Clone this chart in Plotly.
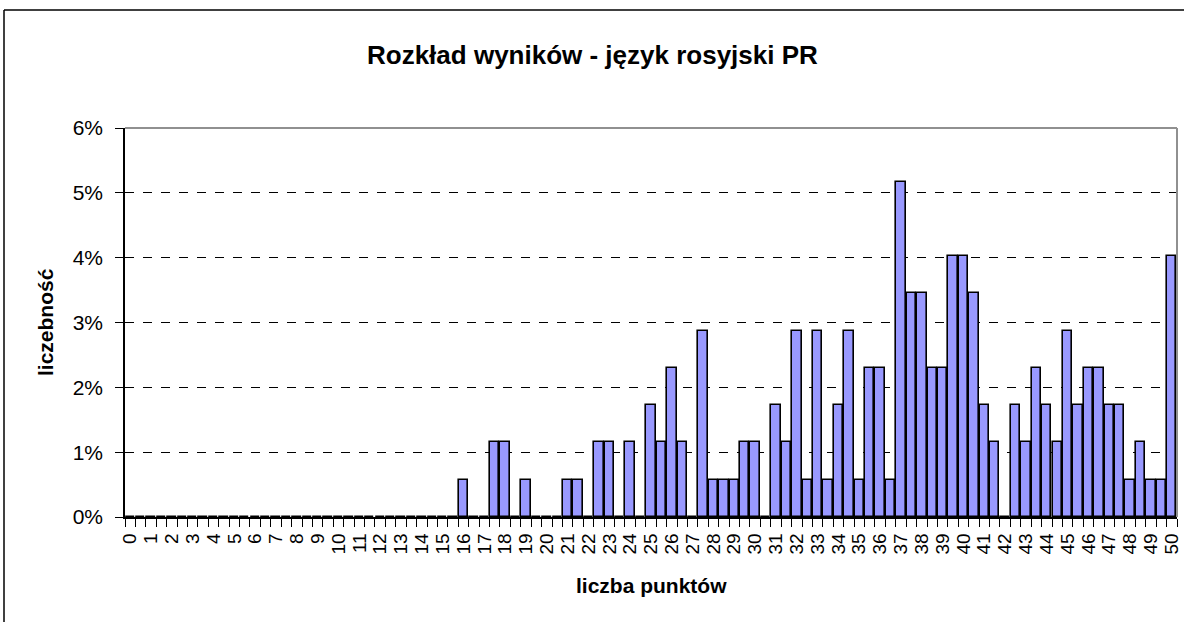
import plotly.graph_objects as go

# categories: scores 0, 0.5, ..., 50
scores = [i / 2 for i in range(101)]

# percent of students per score
percent = [
    0, 0, 0, 0, 0, 0, 0, 0, 0, 0,          # 0 - 4.5
    0, 0, 0, 0, 0, 0, 0, 0, 0, 0,          # 5 - 9.5
    0, 0, 0, 0, 0, 0, 0, 0, 0, 0,          # 10 - 14.5
    0, 0,                                  # 15 - 15.5
    0.57, 0, 0, 1.15, 1.15, 0, 0.57, 0,    # 16 - 19.5
    0, 0, 0.57, 0.57, 0, 1.15, 1.15, 0,    # 20 - 23.5
    1.15, 0, 1.72, 1.15, 2.30, 1.15, 0, 2.87,   # 24 - 27.5
    0.57, 0.57, 0.57, 1.15, 1.15, 0, 1.72, 1.15,  # 28 - 31.5
    2.87, 0.57, 2.87, 0.57, 1.72, 2.87, 0.57, 2.30,  # 32 - 35.5
    2.30, 0.57, 5.17, 3.45, 3.45, 2.30, 2.30, 4.02,  # 36 - 39.5
    4.02, 3.45, 1.72, 1.15, 0, 1.72, 1.15, 2.30,    # 40 - 43.5
    1.72, 1.15, 2.87, 1.72, 2.30, 2.30, 1.72, 1.72,  # 44 - 47.5
    0.57, 1.15, 0.57, 0.57, 4.02,          # 48 - 50
]

tick_values = list(range(0, 51))
tick_labels = [str(v) for v in tick_values]
y_ticks = [0, 0.01, 0.02, 0.03, 0.04, 0.05, 0.06]

title_text = "Rozkład wyników - język rosyjski PR"
x_title = "liczba punktów"
y_title = "liczebność"

FONT = "Liberation Sans, Arial, sans-serif"

# plot area in pixels
L, R, T, B = 125, 1177, 128, 517
PW, PH = R - L, B - T

fig = go.Figure()
fig.add_trace(go.Bar(
    x=scores,
    y=[p / 100 for p in percent],
    width=0.45,
    marker=dict(color="#9999FF", line=dict(color="black", width=1.6)),
    hoverinfo="x+y",
))

boundaries = [s - 0.25 for s in scores] + [scores[-1] + 0.25]

fig.update_layout(
    width=1184, height=622,
    autosize=False,
    margin=dict(l=L, r=1184 - R, t=T, b=622 - B, pad=0, autoexpand=False),
    paper_bgcolor="white",
    plot_bgcolor="white",
    showlegend=False,
    font=dict(family=FONT, color="black"),
    bargap=0,
    xaxis=dict(
        range=[-0.25, 50.25],
        automargin=False,
        tickmode="array",
        tickvals=tick_values,
        ticktext=tick_labels,
        tickangle=-90,
        tickfont=dict(size=19, family=FONT),
        ticks="",
        ticklabelstandoff=7,
        showgrid=False,
        zeroline=False,
        showline=True,
        linecolor="black",
        linewidth=1.5,
        minor=dict(
            tickmode="array",
            tickvals=boundaries,
            ticks="outside",
            ticklen=8,
            tickcolor="black",
            tickwidth=1,
            showgrid=False,
        ),
    ),
    yaxis=dict(
        range=[0, 0.06],
        automargin=False,
        tickmode="array",
        tickvals=y_ticks,
        tickformat=".0%",
        tickfont=dict(size=21, family=FONT),
        ticks="outside",
        ticklen=8,
        ticklabelstandoff=8,
        tickcolor="black",
        showgrid=True,
        gridcolor="black",
        gridwidth=1,
        griddash="dash",
        zeroline=False,
        showline=True,
        linecolor="black",
        linewidth=1.5,
    ),
    shapes=[
        # gray plot-area frame (top & right)
        dict(type="line", xref="paper", yref="paper", x0=0, x1=1, y0=1, y1=1,
             line=dict(color="#909090", width=2), layer="above"),
        dict(type="line", xref="paper", yref="paper", x0=1, x1=1, y0=0, y1=1,
             line=dict(color="#909090", width=2), layer="above"),
        # outer chart border (left & top)
        dict(type="line", xref="paper", yref="paper",
             x0=(4 - L) / PW, x1=(4 - L) / PW,
             y0=(B - 10) / PH, y1=(B - 640) / PH,
             line=dict(color="black", width=1.5)),
        dict(type="line", xref="paper", yref="paper",
             x0=(4 - L) / PW, x1=(1200 - L) / PW,
             y0=(B - 10) / PH, y1=(B - 10) / PH,
             line=dict(color="black", width=1.5)),
    ],
    annotations=[
        dict(text=f"<b>{title_text}</b>", xref="paper", yref="paper",
             x=(592 - L) / PW, y=(B - 55) / PH, showarrow=False,
             font=dict(size=26, family=FONT), xanchor="center", yanchor="middle"),
        dict(text=f"<b>{x_title}</b>", xref="paper", yref="paper",
             x=(651 - L) / PW, y=(B - 585) / PH, showarrow=False,
             font=dict(size=21, family=FONT), xanchor="center", yanchor="middle"),
        dict(text=f"<b>{y_title}</b>", xref="paper", yref="paper",
             x=(45 - L) / PW, y=(B - 322) / PH, showarrow=False, textangle=-90,
             font=dict(size=21, family=FONT), xanchor="center", yanchor="middle"),
    ],
)

fig.write_html("out.html", config={"displayModeBar": False},
               post_script="document.body.style.margin='0';")
